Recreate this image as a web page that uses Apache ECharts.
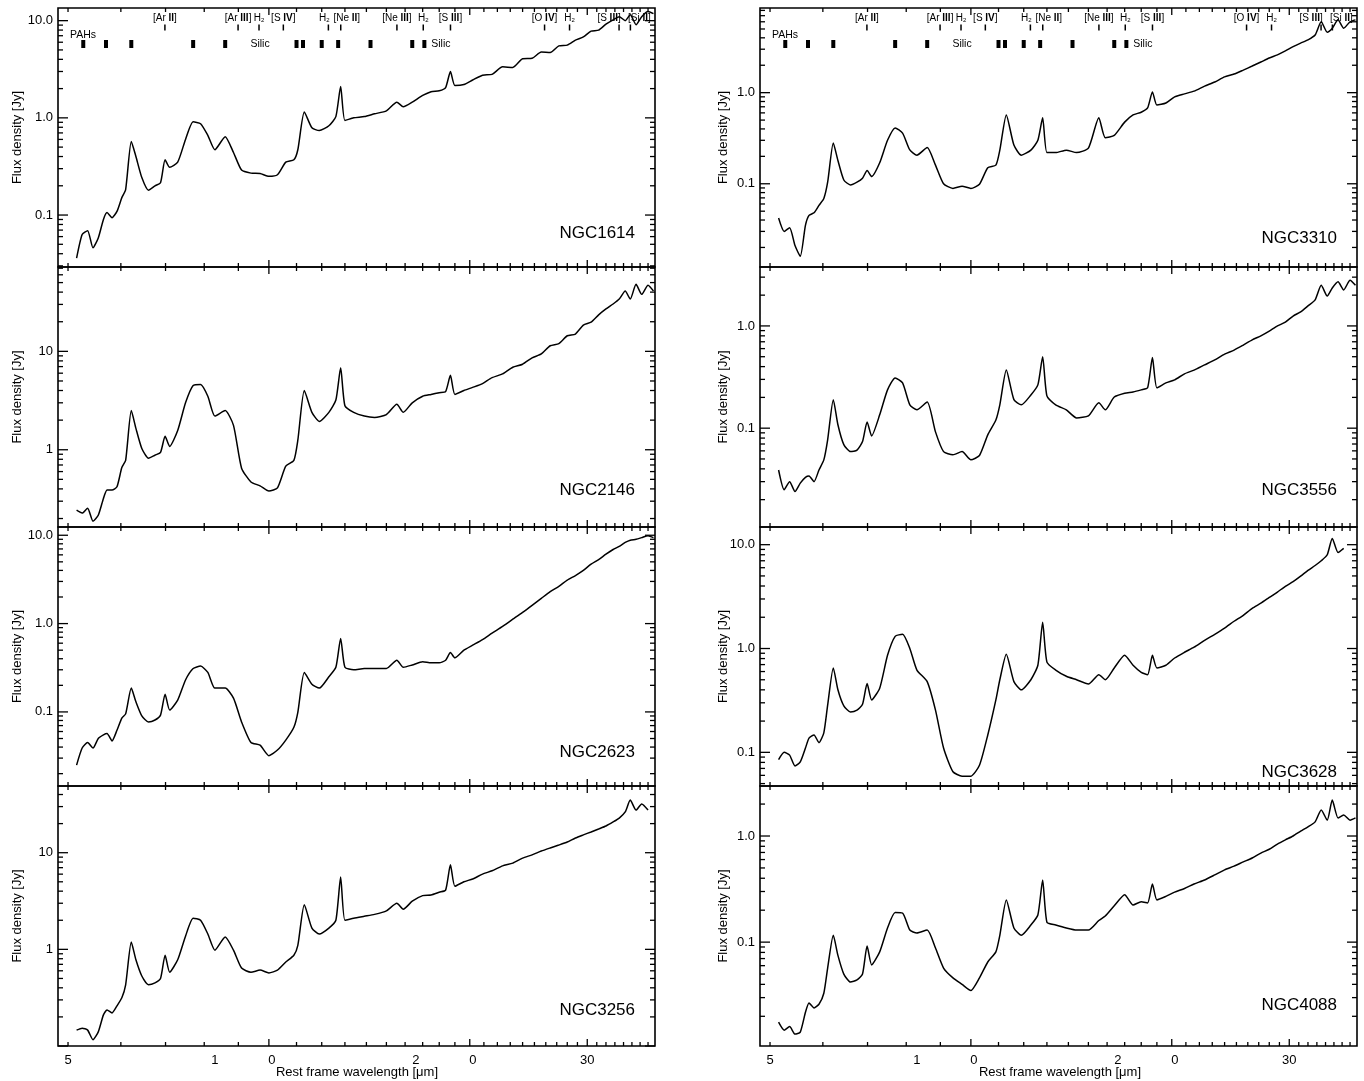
<!DOCTYPE html>
<html>
<head>
<meta charset="utf-8">
<script src="https://cdn.jsdelivr.net/npm/echarts@6/dist/echarts.min.js"></script>
<style>html,body{margin:0;padding:0;background:#fff}#c{width:1364px;height:1081px}</style>
</head>
<body>
<div id="c"></div>
<script>
// ---------------- data ----------------
const WAVE = [5.15,5.25,5.35,5.45,5.55,5.65,5.72,5.82,5.92,6.02,6.10,6.22,6.32,6.45,6.60,6.75,6.88,6.99,7.10,7.30,7.50,7.70,7.90,8.10,8.30,8.60,8.85,9.10,9.40,9.70,10.0,10.3,10.6,10.9,11.05,11.3,11.6,11.9,12.3,12.6,12.81,13.0,13.4,13.9,14.4,15.0,15.55,15.9,16.4,17.0,17.5,18.0,18.4,18.71,19.0,19.6,20.2,20.9,21.6,22.4,23.2,24.0,24.8,25.6,26.4,27.2,28.0,28.8,29.6,30.4,31.2,32.0,32.8,33.5,34.2,34.8,35.5,36.2,37.0,37.7];

const NGC1614 = [0.036,0.063,0.069,0.046,0.058,0.090,0.106,0.094,0.109,0.151,
  0.183,0.57,0.40,0.243,0.18,0.20,0.215,0.37,0.31,0.35,
  0.60,0.91,0.87,0.66,0.47,0.64,0.44,0.29,0.27,0.267,
  0.25,0.26,0.35,0.37,0.47,1.15,0.79,0.74,0.83,1.03,
  2.1,0.94,1.0,1.03,1.1,1.18,1.45,1.3,1.45,1.7,
  1.86,1.9,2.05,3.0,2.15,2.2,2.45,2.75,2.8,3.35,
  3.3,4.05,4.1,4.75,4.7,5.5,5.6,6.3,6.8,7.8,
  8.0,9.2,10.2,11.0,10.0,11.5,9.1,11.0,12.4,11.8];

const NGC2146 = [0.243,0.227,0.255,0.188,0.216,0.32,0.39,0.39,0.42,0.66,
  0.78,2.5,1.65,1.03,0.82,0.88,0.94,1.37,1.08,1.57,
  3.0,4.5,4.6,3.5,2.2,2.5,1.77,0.65,0.47,0.43,
  0.38,0.41,0.68,0.78,1.25,4.0,2.4,1.94,2.4,3.2,
  6.8,2.8,2.4,2.2,2.13,2.28,2.9,2.4,3.0,3.5,
  3.65,3.8,3.9,5.7,3.65,4.0,4.3,4.7,5.4,5.9,
  6.9,7.4,8.6,9.4,11.4,12.0,14.4,15.0,18.5,19.8,
  23.5,27,30.3,34,41,34,48,38,47,41];

const NGC2623 = [0.025,0.039,0.045,0.039,0.050,0.055,0.057,0.047,0.062,0.085,
  0.095,0.186,0.13,0.090,0.077,0.081,0.092,0.159,0.105,0.136,
  0.23,0.31,0.33,0.28,0.186,0.186,0.143,0.077,0.045,0.042,
  0.032,0.037,0.048,0.067,0.099,0.28,0.206,0.186,0.25,0.32,
  0.68,0.32,0.30,0.31,0.31,0.31,0.385,0.32,0.34,0.37,
  0.36,0.36,0.385,0.47,0.41,0.50,0.57,0.66,0.78,0.93,
  1.12,1.34,1.61,1.93,2.3,2.64,3.1,3.5,4.0,4.7,
  5.3,6.1,6.9,7.5,8.3,8.8,9.0,9.4,9.9,9.4];

const NGC3256 = [0.146,0.153,0.146,0.116,0.14,0.21,0.236,0.22,0.26,0.315,
  0.43,1.19,0.78,0.53,0.43,0.45,0.50,0.87,0.58,0.78,
  1.37,2.1,2.0,1.44,0.98,1.34,0.98,0.64,0.58,0.61,
  0.57,0.61,0.74,0.87,1.1,2.9,1.66,1.44,1.66,2.0,
  5.6,2.0,2.1,2.2,2.3,2.5,3.0,2.6,3.15,3.6,
  3.65,3.9,4.1,7.5,4.5,5.0,5.35,6.0,6.5,7.3,
  7.8,8.8,9.5,10.4,11.2,12.0,12.9,14.2,15.3,16.4,
  17.6,18.9,20.8,22.8,26.4,35,27.6,32,27.6,null];

const NGC3310 = [0.042,0.030,0.033,0.021,0.016,0.035,0.045,0.048,0.058,0.069,
  0.104,0.28,0.18,0.11,0.097,0.104,0.115,0.14,0.12,0.17,
  0.30,0.41,0.36,0.235,0.206,0.25,0.16,0.10,0.089,0.094,
  0.089,0.099,0.15,0.16,0.234,0.57,0.266,0.206,0.234,0.30,
  0.53,0.22,0.22,0.234,0.22,0.246,0.53,0.32,0.34,0.475,
  0.57,0.61,0.68,1.02,0.73,0.77,0.90,0.97,1.04,1.18,
  1.31,1.49,1.6,1.77,1.96,2.17,2.4,2.6,2.87,3.2,
  3.5,3.8,4.3,6.0,4.6,5.1,6.3,5.1,6.0,6.3];

const NGC3556 = [0.039,0.025,0.030,0.024,0.029,0.033,0.034,0.030,0.039,0.049,
  0.077,0.19,0.108,0.069,0.059,0.061,0.074,0.115,0.084,0.135,
  0.237,0.31,0.277,0.169,0.151,0.18,0.092,0.059,0.055,0.059,
  0.049,0.054,0.086,0.12,0.169,0.37,0.19,0.169,0.211,0.265,
  0.50,0.207,0.169,0.151,0.126,0.132,0.177,0.151,0.202,0.22,
  0.226,0.237,0.248,0.49,0.248,0.277,0.297,0.34,0.37,0.416,
  0.465,0.53,0.58,0.65,0.73,0.80,0.89,1.0,1.09,1.25,
  1.37,1.57,1.8,2.5,1.96,2.35,2.7,2.25,2.8,2.5];

const NGC3628 = [0.085,0.10,0.094,0.074,0.081,0.11,0.137,0.147,0.124,0.154,
  0.285,0.65,0.40,0.28,0.245,0.255,0.29,0.46,0.32,0.415,
  0.86,1.31,1.37,1.0,0.62,0.48,0.255,0.11,0.065,0.059,
  0.059,0.075,0.147,0.32,0.50,0.88,0.48,0.40,0.50,0.69,
  1.79,0.74,0.62,0.54,0.50,0.455,0.56,0.50,0.65,0.86,
  0.69,0.59,0.56,0.86,0.65,0.69,0.81,0.92,1.03,1.2,
  1.37,1.57,1.83,2.09,2.44,2.73,3.1,3.5,3.97,4.4,
  4.97,5.66,6.3,7.0,8.0,11.5,8.4,9.2,null,null];

const NGC4088 = [0.0176,0.0148,0.016,0.0136,0.0142,0.0218,0.0267,0.024,0.026,0.033,
  0.057,0.116,0.075,0.05,0.042,0.044,0.05,0.092,0.061,0.081,
  0.136,0.19,0.188,0.13,0.122,0.13,0.088,0.057,0.046,0.040,
  0.035,0.046,0.065,0.081,0.116,0.25,0.136,0.116,0.145,0.18,
  0.385,0.154,0.145,0.136,0.13,0.13,0.16,0.176,0.22,0.28,
  0.224,0.24,0.234,0.353,0.25,0.27,0.296,0.32,0.353,0.385,
  0.43,0.48,0.52,0.57,0.62,0.69,0.75,0.84,0.92,1.0,
  1.11,1.22,1.36,1.76,1.41,2.18,1.48,1.58,1.41,1.48];

// axis ranges and tick labels
const X_RANGE = [4.83, 37.9];
const X_TICK_LABELS = ['5','10','20','30'];
const Y_RANGE_NGC1614 = [0.0292, 13.5];
const Y_RANGE_NGC2146 = [0.164, 72];
const Y_RANGE_NGC2623 = [0.0145, 12.4];
const Y_RANGE_NGC3256 = [0.1, 49];
const Y_RANGE_NGC3310 = [0.0122, 8.5];
const Y_RANGE_NGC3556 = [0.0108, 3.77];
const Y_RANGE_NGC3628 = [0.0474, 14.8];
const Y_RANGE_NGC4088 = [0.0105, 2.96];
const Y_LABELS_NGC1614 = ['10.0','1.0','0.1'];
const Y_LABELS_NGC2146 = ['10','1'];
const Y_LABELS_NGC2623 = ['10.0','1.0','0.1'];
const Y_LABELS_NGC3256 = ['10','1'];
const Y_LABELS_NGC3310 = ['1.0','0.1'];
const Y_LABELS_NGC3556 = ['1.0','0.1'];
const Y_LABELS_NGC3628 = ['10.0','1.0','0.1'];
const Y_LABELS_NGC4088 = ['1.0','0.1'];

// spectral feature annotations
const LINE_LABELS = ['[Ar II]','[Ar III]','H2','[S IV]','H2','[Ne II]','[Ne III]','H2','[S III]','[O IV]','H2','[S III]','[Si II]'];
const LINE_WAVES = [6.985,8.991,9.665,10.511,12.279,12.814,15.555,17.035,18.713,25.89,28.22,33.48,34.815];
const PAH_WAVES = [5.27,5.70,6.22,7.70,8.60,11.0,11.25,12.0,12.7,14.2,16.4,17.1];
const SILIC_WAVES = [9.7, 18.1];

// ---------------- layout / style ----------------
const FONT = '"Liberation Sans", Arial, Helvetica, sans-serif';
const COL_X = [58, 760];
const ROW_Y = [8, 267, 527, 786, 1046];
const PLOT_W = 597;
// horizontal nudges (px) of crowded line labels, keyed by label index
const LABEL_NUDGE = {4: -4, 5: 6, 11: -10, 12: 9};
const PANELS = [
  {name:'NGC1614', flux:NGC1614, yr:Y_RANGE_NGC1614, yl:Y_LABELS_NGC1614, col:0, row:0, ny:233},
  {name:'NGC2146', flux:NGC2146, yr:Y_RANGE_NGC2146, yl:Y_LABELS_NGC2146, col:0, row:1, ny:490},
  {name:'NGC2623', flux:NGC2623, yr:Y_RANGE_NGC2623, yl:Y_LABELS_NGC2623, col:0, row:2, ny:752},
  {name:'NGC3256', flux:NGC3256, yr:Y_RANGE_NGC3256, yl:Y_LABELS_NGC3256, col:0, row:3, ny:1010},
  {name:'NGC3310', flux:NGC3310, yr:Y_RANGE_NGC3310, yl:Y_LABELS_NGC3310, col:1, row:0, ny:238},
  {name:'NGC3556', flux:NGC3556, yr:Y_RANGE_NGC3556, yl:Y_LABELS_NGC3556, col:1, row:1, ny:490},
  {name:'NGC3628', flux:NGC3628, yr:Y_RANGE_NGC3628, yl:Y_LABELS_NGC3628, col:1, row:2, ny:772},
  {name:'NGC4088', flux:NGC4088, yr:Y_RANGE_NGC4088, yl:Y_LABELS_NGC4088, col:1, row:3, ny:1005}
];

// tick positions (axis decoration)
const X_TICKS = [];
for (let v = 5; v <= 37; v++) X_TICKS.push(v);
function yTicks(r) {
  const out = [];
  for (let k = Math.floor(Math.log10(r[0])); k <= Math.ceil(Math.log10(r[1])); k++) {
    for (let m = 1; m <= 9; m++) {
      const v = m * Math.pow(10, k);
      if (v >= r[0] * 0.9999 && v <= r[1] * 1.0001) out.push(v);
    }
  }
  return out;
}
const TICK_STYLE = {stroke:'#000', lineWidth:1.3};

function richLabel(s) {
  if (s === 'H2') return 'H{s|2}';
  return s.replace(/ ([IV]+)\]/, ' {b|$1}]');
}

const grids = [], xAxes = [], yAxes = [], series = [], graphics = [];

PANELS.forEach((p, i) => {
  const top = ROW_Y[p.row], h = ROW_Y[p.row + 1] - ROW_Y[p.row];
  const left = COL_X[p.col];
  grids.push({left: left, top: top, width: PLOT_W, height: h, show: true,
    borderColor: '#000', borderWidth: 1.6, backgroundColor: 'transparent', containLabel: false});
  const hidden = {axisLine:{show:false}, axisTick:{show:false}, axisLabel:{show:false},
    splitLine:{show:false}, minorTick:{show:false}, minorSplitLine:{show:false}};
  xAxes.push(Object.assign({gridIndex: i, type: 'log', logBase: 10, min: X_RANGE[0], max: X_RANGE[1]}, hidden));
  yAxes.push(Object.assign({gridIndex: i, type: 'log', logBase: 10, min: p.yr[0], max: p.yr[1]}, hidden));

  // spectrum
  series.push({
    type: 'line', xAxisIndex: i, yAxisIndex: i, name: p.name,
    data: WAVE.map((w, k) => [w, p.flux[k]]).filter(d => d[1] != null),
    symbol: 'none', showSymbol: false, smooth: 0.2, clip: true, silent: true, z: 3,
    lineStyle: {color: '#000', width: 1.5}
  });

  // x ticks (top & bottom, inward)
  series.push({
    type: 'custom', xAxisIndex: i, yAxisIndex: i, silent: true, z: 6,
    data: X_TICKS.map(v => [v, 1]),
    renderItem: function (params, api) {
      const v = api.value(0);
      const x = api.coord([v, 1])[0];
      const cs = params.coordSys;
      const len = (v % 10 === 0) ? 7 : 4;
      const bot = cs.y + cs.height;
      return {type: 'group', children: [
        {type: 'line', shape: {x1: x, y1: bot, x2: x, y2: bot - len}, style: TICK_STYLE},
        {type: 'line', shape: {x1: x, y1: cs.y, x2: x, y2: cs.y + len}, style: TICK_STYLE}
      ]};
    }
  });

  // y ticks (left & right, inward)
  const yt = yTicks(p.yr);
  series.push({
    type: 'custom', xAxisIndex: i, yAxisIndex: i, silent: true, z: 6,
    data: yt.map(v => [10, v]),
    renderItem: function (params, api) {
      const v = api.value(1);
      const y = api.coord([10, v])[1];
      const cs = params.coordSys;
      const lg = Math.log10(v);
      const len = Math.abs(lg - Math.round(lg)) < 1e-6 ? 10 : 5;
      return {type: 'group', children: [
        {type: 'line', shape: {x1: cs.x, y1: y, x2: cs.x + len, y2: y}, style: TICK_STYLE},
        {type: 'line', shape: {x1: cs.x + cs.width, y1: y, x2: cs.x + cs.width - len, y2: y}, style: TICK_STYLE}
      ]};
    }
  });

  // y tick labels
  series.push({
    type: 'custom', xAxisIndex: i, yAxisIndex: i, silent: true, z: 6,
    data: p.yl.map(t => [10, parseFloat(t)]),
    renderItem: function (params, api) {
      const y = api.coord([10, api.value(1)])[1];
      const cs = params.coordSys;
      return {type: 'text', x: cs.x - 5, y: y,
        style: {text: p.yl[params.dataIndex], fill: '#000', fontSize: 13, fontFamily: FONT,
          align: 'right', verticalAlign: 'middle', textAlign: 'right', textVerticalAlign: 'middle'}};
    }
  });

  // x tick labels for bottom row
  if (p.row === 3) {
    series.push({
      type: 'custom', xAxisIndex: i, yAxisIndex: i, silent: true, z: 6,
      data: X_TICK_LABELS.map(t => [parseFloat(t), 1]),
      renderItem: function (params, api) {
        const x = api.coord([api.value(0), 1])[0];
        const cs = params.coordSys;
        const yy = cs.y + cs.height + 14;
        const t = X_TICK_LABELS[params.dataIndex];
        const st = {fill: '#000', fontSize: 13, fontFamily: FONT, align: 'center', verticalAlign: 'middle',
          textAlign: 'center', textVerticalAlign: 'middle'};
        if (t === '10' || t === '20') {
          return {type: 'group', children: [
            {type: 'text', x: x - 54, y: yy, style: Object.assign({text: t.charAt(0)}, st)},
            {type: 'text', x: x + 3, y: yy, style: Object.assign({text: t.charAt(1)}, st)}
          ]};
        }
        return {type: 'text', x: x, y: yy, style: Object.assign({text: t}, st)};
      }
    });
    graphics.push({type: 'text', x: left + (p.col === 0 ? 299 : 300), y: 1072, silent: true,
      style: {text: 'Rest frame wavelength [\u03bcm]', fill: '#000', fontSize: 13, fontFamily: FONT,
        align: 'center', verticalAlign: 'middle', textAlign: 'center', textVerticalAlign: 'middle'}});
  }

  // annotations on top row
  if (p.row === 0) {
    series.push({
      type: 'custom', xAxisIndex: i, yAxisIndex: i, silent: true, z: 6,
      data: LINE_WAVES.map(w => [w, 1]),
      renderItem: function (params, api) {
        const x = api.coord([api.value(0), 1])[0];
        const t = params.coordSys.y;
        const dx = LABEL_NUDGE[params.dataIndex] || 0;
        return {type: 'group', children: [
          {type: 'text', x: x + dx, y: t + 10.5, style: {text: richLabel(LINE_LABELS[params.dataIndex]), fill: '#000',
            fontSize: 10, fontFamily: FONT, align: 'center', verticalAlign: 'middle', textAlign: 'center', textVerticalAlign: 'middle',
            rich: {b: {fontSize: 10, fontFamily: FONT, fontWeight: 'bold', fill: '#000'},
                   s: {fontSize: 6, fontFamily: FONT, fill: '#000', verticalAlign: 'bottom', padding: [4, 0, 0, 0]}}}},
          {type: 'line', shape: {x1: x, y1: t + 16.5, x2: x, y2: t + 22.5}, style: {stroke: '#000', lineWidth: 1.5}}
        ]};
      }
    });
    series.push({
      type: 'custom', xAxisIndex: i, yAxisIndex: i, silent: true, z: 6,
      data: PAH_WAVES.map(w => [w, 1]),
      renderItem: function (params, api) {
        const x = api.coord([api.value(0), 1])[0];
        const t = params.coordSys.y;
        return {type: 'rect', shape: {x: x - 2, y: t + 32, width: 4, height: 8}, style: {fill: '#000'}};
      }
    });
    series.push({
      type: 'custom', xAxisIndex: i, yAxisIndex: i, silent: true, z: 6,
      data: SILIC_WAVES.map(w => [w, 1]),
      renderItem: function (params, api) {
        const x = api.coord([api.value(0), 1])[0];
        const t = params.coordSys.y;
        return {type: 'text', x: x, y: t + 36.5, style: {text: 'Silic', fill: '#000', fontSize: 10.5, fontFamily: FONT,
          align: 'center', verticalAlign: 'middle', textAlign: 'center', textVerticalAlign: 'middle'}};
      }
    });
    graphics.push({type: 'text', x: left + 12, y: top + 27, silent: true,
      style: {text: 'PAHs', fill: '#000', fontSize: 10.5, fontFamily: FONT, align: 'left', verticalAlign: 'middle',
        textAlign: 'left', textVerticalAlign: 'middle'}});
  }

  // axis title and galaxy name
  graphics.push({type: 'text', x: p.col === 0 ? 17 : 723, y: top + h / 2, rotation: Math.PI / 2, silent: true,
    style: {text: 'Flux density [Jy]', fill: '#000', fontSize: 13, fontFamily: FONT,
      align: 'center', verticalAlign: 'middle', textAlign: 'center', textVerticalAlign: 'middle'}});
  graphics.push({type: 'text', x: left + PLOT_W - 20, y: p.ny, silent: true,
    style: {text: p.name, fill: '#000', fontSize: 17, fontFamily: FONT,
      align: 'right', verticalAlign: 'middle', textAlign: 'right', textVerticalAlign: 'middle'}});
});

const chart = echarts.init(document.getElementById('c'), null, {renderer: 'canvas', width: 1364, height: 1081});
chart.setOption({
  animation: false,
  backgroundColor: '#fff',
  textStyle: {fontFamily: FONT},
  grid: grids,
  xAxis: xAxes,
  yAxis: yAxes,
  series: series,
  graphic: graphics
});
</script>
</body>
</html>
